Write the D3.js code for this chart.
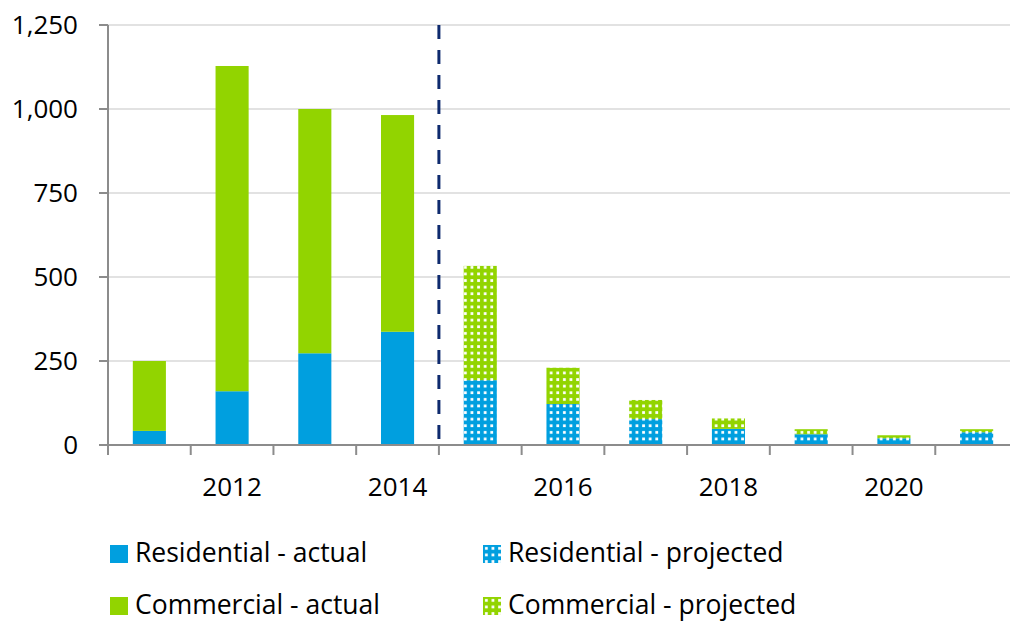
<!DOCTYPE html>
<html>
<head>
<meta charset="utf-8">
<script src="https://cdn.jsdelivr.net/npm/d3@7"></script>
<style>
  body { margin: 0; background: #fff; }
  svg text { font-family: "Open Sans", Lato, sans-serif; fill: #000; }
</style>
</head>
<body>
<svg id="chart" width="1010" height="621"></svg>
<script>
// values
var years = [2011, 2012, 2013, 2014, 2015, 2016, 2017, 2018, 2019, 2020, 2021];
var residential = [42, 160, 273, 337, 193, 122, 77, 48, 32, 20, 38];
var commercial = [208, 968, 727, 645, 340, 108, 57, 31, 15, 9, 9];
var firstProjected = 2015;
var yTicks = [0, 250, 500, 750, 1000, 1250];
var xLabels = [2012, 2014, 2016, 2018, 2020];
var legendItems = [
  {name: "Residential - actual", key: "res", proj: false},
  {name: "Residential - projected", key: "res", proj: true},
  {name: "Commercial - actual", key: "com", proj: false},
  {name: "Commercial - projected", key: "com", proj: true}
];

var blue = "#009fdf", green = "#92d400";
var svg = d3.select("#chart");

var x = d3.scaleBand().domain(years).range([108, 1018]).paddingInner(0.6).paddingOuter(0.3);
var y = d3.scaleLinear().domain([0, 1250]).range([445, 25]);

// dotted patterns for projected bars
var defs = svg.append("defs");
function addPattern(id, color, size) {
  var p = defs.append("pattern").attr("id", id)
    .attr("patternUnits", "userSpaceOnUse")
    .attr("width", size).attr("height", size);
  p.append("rect").attr("width", size).attr("height", size).attr("fill", color);
  p.append("rect").attr("x", size * 0.3).attr("y", size * 0.3)
    .attr("width", size * 0.42).attr("height", size * 0.42).attr("fill", "#fff");
}
addPattern("resProj", blue, 6.6);
addPattern("comProj", green, 6.6);

// gridlines
svg.append("g").selectAll("line").data(yTicks.slice(1)).enter().append("line")
  .attr("x1", 108).attr("x2", 1018)
  .attr("y1", function(d) { return y(d); }).attr("y2", function(d) { return y(d); })
  .attr("stroke", "#d9d9d9").attr("stroke-width", 1.5);

// bars
var rows = years.map(function(yr, i) {
  return {year: yr, res: residential[i], com: commercial[i], proj: yr >= firstProjected};
});
var barG = svg.append("g");
barG.selectAll(".res").data(rows).enter().append("rect").attr("class", "res")
  .attr("x", function(d) { return x(d.year); })
  .attr("width", x.bandwidth())
  .attr("y", function(d) { return y(d.res); })
  .attr("height", function(d) { return y(0) - y(d.res); })
  .attr("fill", function(d) { return d.proj ? "url(#resProj)" : blue; });
barG.selectAll(".com").data(rows).enter().append("rect").attr("class", "com")
  .attr("x", function(d) { return x(d.year); })
  .attr("width", x.bandwidth())
  .attr("y", function(d) { return y(d.res + d.com); })
  .attr("height", function(d) { return y(d.res) - y(d.res + d.com); })
  .attr("fill", function(d) { return d.proj ? "url(#comProj)" : green; });

// y axis
var yAxis = svg.append("g");
yAxis.append("line").attr("x1", 108).attr("x2", 108).attr("y1", 25).attr("y2", 445)
  .attr("stroke", "#8c8c8c").attr("stroke-width", 2);
yAxis.selectAll(".tk").data(yTicks).enter().append("line").attr("class", "tk")
  .attr("x1", 99).attr("x2", 108)
  .attr("y1", function(d) { return y(d); }).attr("y2", function(d) { return y(d); })
  .attr("stroke", "#8c8c8c").attr("stroke-width", 2);
yAxis.selectAll("text").data(yTicks).enter().append("text")
  .attr("x", 78).attr("y", function(d) { return y(d); }).attr("dy", "0.36em")
  .attr("text-anchor", "end").style("font-size", "26px")
  .text(function(d) { return d3.format(",")(d); });

// x axis
var xAxis = svg.append("g");
xAxis.append("line").attr("x1", 99).attr("x2", 1018).attr("y1", 445).attr("y2", 445)
  .attr("stroke", "#8c8c8c").attr("stroke-width", 2);
var bounds = years.map(function(yr) { return x(yr) - x.step() * x.paddingOuter(); });
bounds.push(1018);
xAxis.selectAll(".tk").data(bounds).enter().append("line").attr("class", "tk")
  .attr("x1", function(d) { return d; }).attr("x2", function(d) { return d; })
  .attr("y1", 445).attr("y2", 455)
  .attr("stroke", "#8c8c8c").attr("stroke-width", 2);
xAxis.selectAll("text").data(xLabels).enter().append("text")
  .attr("x", function(d) { return x(d) + x.bandwidth() / 2; })
  .attr("y", 496).attr("text-anchor", "middle").style("font-size", "26px")
  .text(function(d) { return d; });

// actual / projected divider
var divX = x(firstProjected) - x.step() * x.paddingOuter();
svg.append("line").attr("x1", divX).attr("x2", divX).attr("y1", 25).attr("y2", 448)
  .attr("stroke", "#0e2a6e").attr("stroke-width", 3).attr("stroke-dasharray", "14,11");

// legend
var leg = svg.append("g").selectAll("g").data(legendItems).enter().append("g")
  .attr("transform", function(d, i) {
    return "translate(" + (i % 2 ? 483 : 110) + "," + (i < 2 ? 545 : 597) + ")";
  });
leg.append("rect").attr("width", 18).attr("height", 18)
  .attr("fill", function(d) {
    if (d.key == "res") return d.proj ? "url(#resProj)" : blue;
    return d.proj ? "url(#comProj)" : green;
  });
leg.append("text").attr("x", 25).attr("y", 17).style("font-size", "26.5px")
  .text(function(d) { return d.name; });
</script>
</body>
</html>
